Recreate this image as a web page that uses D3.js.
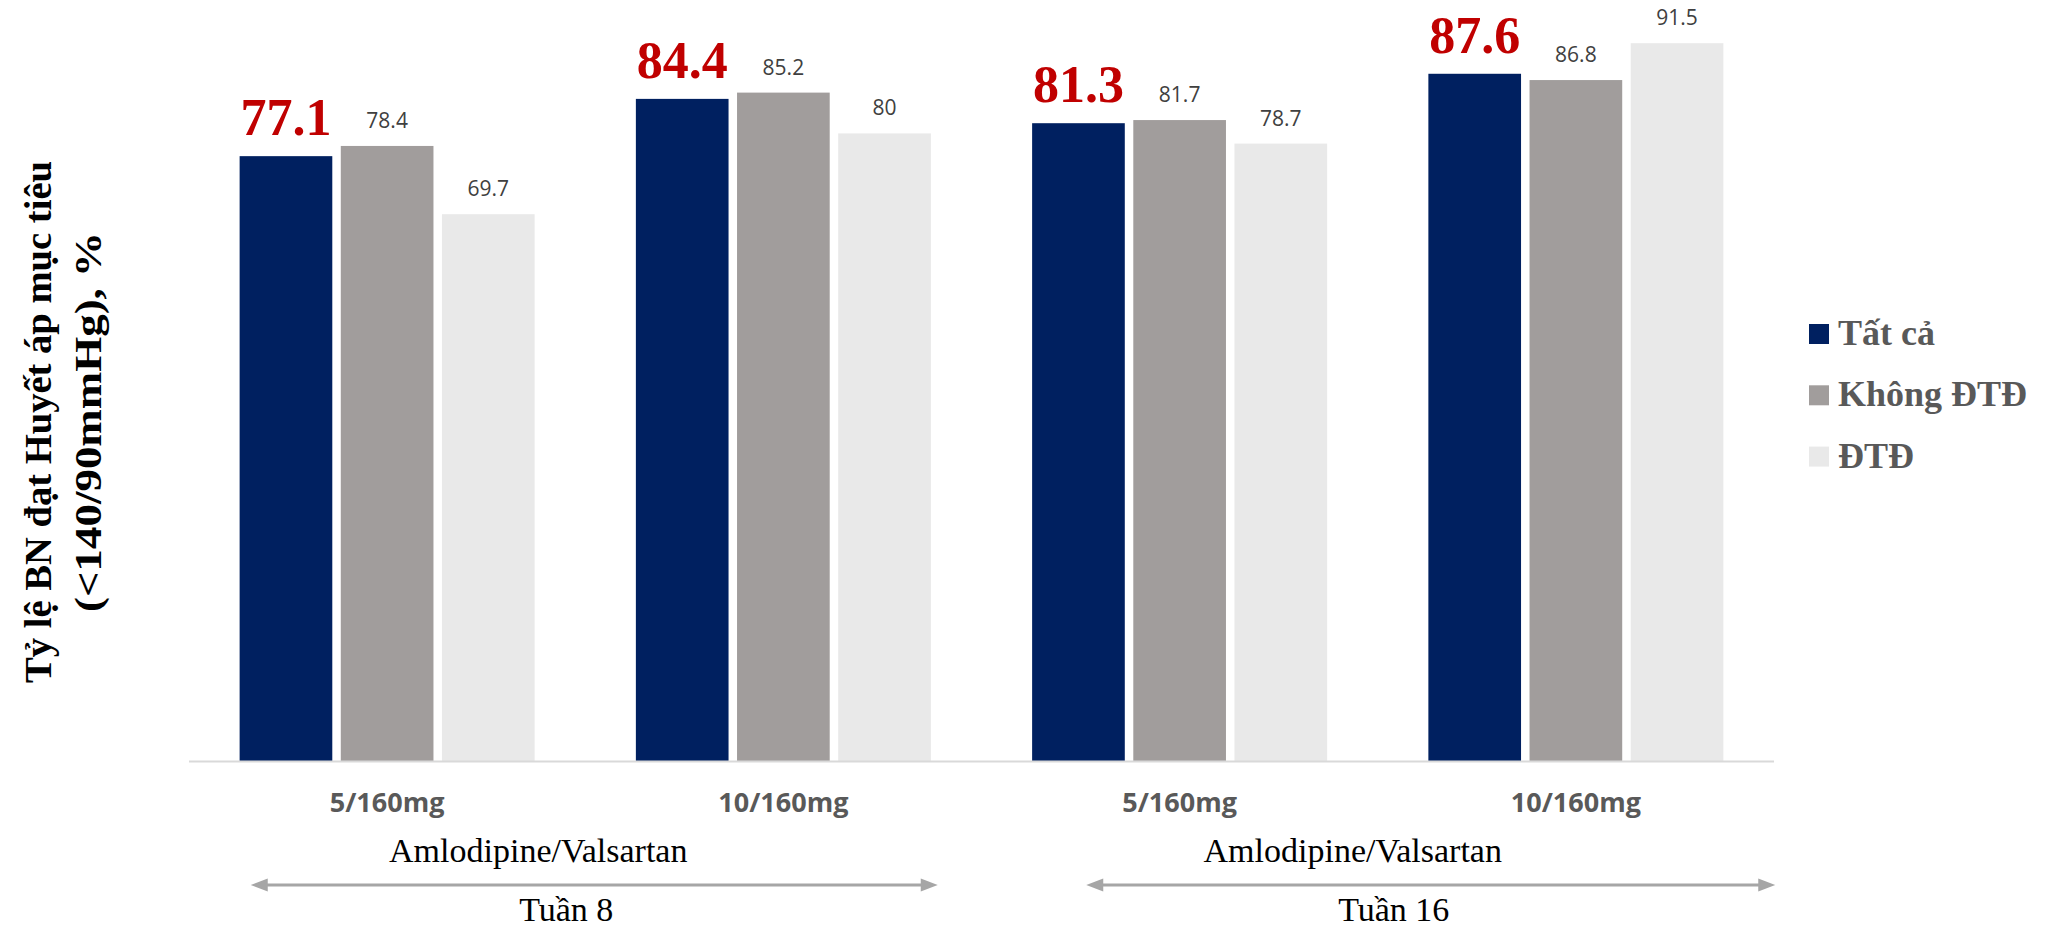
<!DOCTYPE html>
<html lang="vi">
<head>
<meta charset="utf-8">
<script src="https://cdn.jsdelivr.net/npm/d3@7"></script>
<style>
  html, body { margin: 0; padding: 0; background: #ffffff; }
  svg { display: block; }
</style>
</head>
<body>
<svg id="chart" width="2060" height="931"></svg>
<script>
// Doses along the x axis (two per treatment week)
const categories = ["5/160mg", "10/160mg", "5/160mg", "10/160mg"];

// Series names (legend order)
const seriesNames = ["Tất cả", "Không ĐTĐ", "ĐTĐ"];

// Share of patients reaching the BP target (<140/90 mmHg), %
const tatCa    = [77.1, 84.4, 81.3, 87.6];
const khongDTD = [78.4, 85.2, 81.7, 86.8];
const dtd      = [69.7, 80,   78.7, 91.5];

// Bracket annotations under the axis: which category pair each covers
const drugLabel = "Amlodipine/Valsartan";
const weekLabels = ["Tuần 8", "Tuần 16"];
const weekCategoryPairs = [[0, 1], [2, 3]];

const yTitleLines = ["Tỷ lệ BN đạt Huyết áp mục tiêu", "(<140/90mmHg), %"];

// ---------- layout & style ----------
const colors = ["#002060", "#a19d9c", "#e9e9e9"];
const seriesValues = [tatCa, khongDTD, dtd];

const svg = d3.select("#chart");

const plot = { left: 189, right: 1774, baseline: 761, pxPerUnit: 7.845 };

const x0 = d3.scaleBand()
  .domain(d3.range(categories.length))
  .range([plot.left, plot.right])
  .paddingInner(0.2555)
  .paddingOuter(0.2555 / 2);

const x1 = d3.scaleBand()
  .domain(d3.range(seriesNames.length))
  .range([0, x0.bandwidth()])
  .paddingInner(0.084)
  .paddingOuter(0);

const y = d3.scaleLinear()
  .domain([0, 100])
  .range([plot.baseline, plot.baseline - 100 * plot.pxPerUnit]);

// rows for the bars
const rows = [];
categories.forEach((c, i) => {
  seriesValues.forEach((vals, s) => rows.push({ cat: i, series: s, value: vals[i] }));
});

// bars
svg.append("g")
  .selectAll("rect")
  .data(rows)
  .join("rect")
  .attr("x", d => x0(d.cat) + x1(d.series))
  .attr("y", d => y(d.value))
  .attr("width", x1.bandwidth())
  .attr("height", d => y(0) - y(d.value))
  .attr("fill", d => colors[d.series]);

// category axis line
svg.append("line")
  .attr("x1", plot.left).attr("x2", plot.right)
  .attr("y1", plot.baseline + 0.5).attr("y2", plot.baseline + 0.5)
  .attr("stroke", "#d9d9d9")
  .attr("stroke-width", 2);

// value labels: first series emphasised in red
svg.append("g")
  .selectAll("text")
  .data(rows)
  .join("text")
  .attr("x", d => x0(d.cat) + x1(d.series) + x1.bandwidth() / 2)
  .attr("y", d => y(d.value) - (d.series === 0 ? 21 : 18))
  .attr("text-anchor", "middle")
  .attr("font-family", d => d.series === 0 ? "'Liberation Serif', 'DejaVu Serif', serif" : "'Open Sans', sans-serif")
  .attr("font-weight", d => d.series === 0 ? 700 : 400)
  .attr("font-size", d => d.series === 0 ? 52 : 21)
  .attr("fill", d => d.series === 0 ? "#c00000" : "#404040")
  .text(d => d3.format("~f")(d.value));

// category labels
svg.append("g")
  .selectAll("text")
  .data(categories)
  .join("text")
  .attr("x", (d, i) => x0(i) + x0.bandwidth() / 2)
  .attr("y", 812)
  .attr("text-anchor", "middle")
  .attr("font-family", "'Open Sans', sans-serif")
  .attr("font-weight", 700)
  .attr("font-size", 27)
  .attr("fill", "#595959")
  .text(d => d);

// week brackets: drug name, double-headed arrow, week label
const bracketLayout = [
  { drugDx: -47, arrowDx: 9,  arrowHalf: 343.5, weekDx: -19 },
  { drugDx: -25, arrowDx: 53, arrowHalf: 344.5, weekDx: 16 }
];
const arrowY = 885;
const headLen = 17, headHalf = 6.5;

weekCategoryPairs.forEach((pair, k) => {
  const c = (x0(pair[0]) + x0(pair[1]) + x0.bandwidth()) / 2;
  const L = bracketLayout[k];
  const g = svg.append("g");

  g.append("text")
    .attr("x", c + L.drugDx)
    .attr("y", 862)
    .attr("text-anchor", "middle")
    .attr("font-family", "'Liberation Serif', serif")
    .attr("font-size", 34)
    .attr("fill", "#000000")
    .text(drugLabel);

  const ax = c + L.arrowDx;
  const a0 = ax - L.arrowHalf, a1 = ax + L.arrowHalf;
  g.append("line")
    .attr("x1", a0 + headLen - 2).attr("x2", a1 - headLen + 2)
    .attr("y1", arrowY).attr("y2", arrowY)
    .attr("stroke", "#a6a6a6").attr("stroke-width", 3);
  g.append("path")
    .attr("d", `M${a0},${arrowY} L${a0 + headLen},${arrowY - headHalf} L${a0 + headLen},${arrowY + headHalf} Z`)
    .attr("fill", "#a6a6a6");
  g.append("path")
    .attr("d", `M${a1},${arrowY} L${a1 - headLen},${arrowY - headHalf} L${a1 - headLen},${arrowY + headHalf} Z`)
    .attr("fill", "#a6a6a6");

  g.append("text")
    .attr("x", c + L.weekDx)
    .attr("y", 921)
    .attr("text-anchor", "middle")
    .attr("font-family", "'Liberation Serif', serif")
    .attr("font-size", 34)
    .attr("fill", "#000000")
    .text(weekLabels[k]);
});

// y axis title (two rotated lines)
const titleLengths = [522, 380];
const titleG = svg.append("g");
yTitleLines.forEach((line, i) => {
  titleG.append("text")
    .attr("transform", `translate(${51 + i * 50},422) rotate(-90)`)
    .attr("text-anchor", "middle")
    .attr("font-family", "'Liberation Serif', serif")
    .attr("font-weight", 700)
    .attr("font-size", 37)
    .attr("fill", "#000000")
    .attr("textLength", titleLengths[i])
    .attr("lengthAdjust", "spacingAndGlyphs")
    .text(line);
});

// legend
const legend = svg.append("g").attr("transform", "translate(1809,324)");
const item = legend.selectAll("g")
  .data(seriesNames)
  .join("g")
  .attr("transform", (d, i) => `translate(0,${i * 61.3})`);
item.append("rect")
  .attr("width", 20).attr("height", 20)
  .attr("fill", (d, i) => colors[i]);
item.append("text")
  .attr("x", 29)
  .attr("y", 21)
  .attr("font-family", "'Liberation Serif', serif")
  .attr("font-weight", 700)
  .attr("font-size", 36)
  .attr("fill", "#595959")
  .text(d => d);
</script>
</body>
</html>
